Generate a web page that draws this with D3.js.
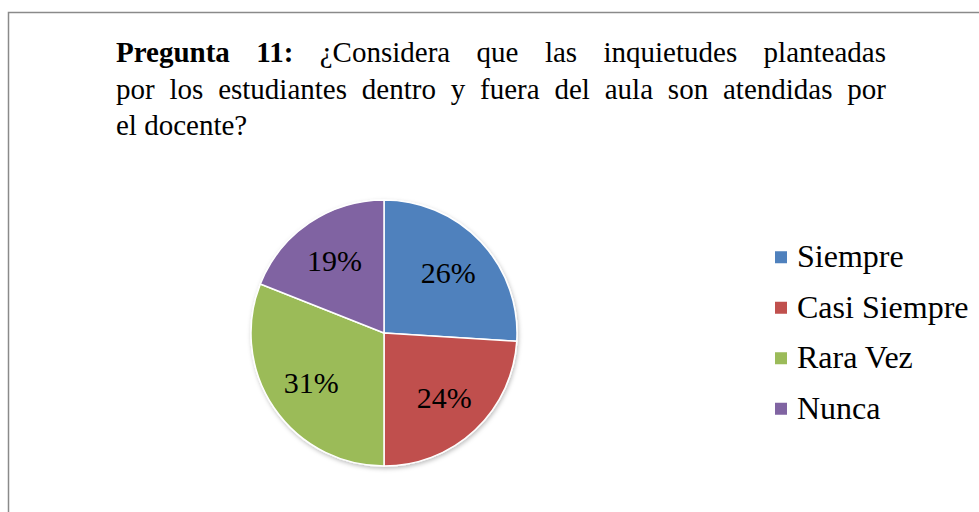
<!DOCTYPE html>
<html>
<head>
<meta charset="utf-8">
<script src="https://cdn.jsdelivr.net/npm/d3@7"></script>
<style>
  body { margin: 0; background: #fff; }
  svg { display: block; font-family: "Liberation Serif", "Times New Roman", serif; }
</style>
</head>
<body>
<svg id="chart" width="979" height="512"></svg>
<script>
// data
var categories = ["Siempre", "Casi Siempre", "Rara Vez", "Nunca"];
var values = [26, 24, 31, 19];
var colors = ["#4F81BD", "#C0504D", "#9BBB59", "#8064A2"];

var titleLines = [
  [["Pregunta", true], ["11:", true], ["¿Considera", false], ["que", false], ["las", false], ["inquietudes", false], ["planteadas", false]],
  [["por", false], ["los", false], ["estudiantes", false], ["dentro", false], ["y", false], ["fuera", false], ["del", false], ["aula", false], ["son", false], ["atendidas", false], ["por", false]],
  [["el docente?", false]]
];

var svg = d3.select("#chart"),
    width = +svg.attr("width"),
    height = +svg.attr("height");

// frame, runs off the right and bottom
svg.append("rect")
    .attr("x", 8.5).attr("y", 12.5)
    .attr("width", 1100).attr("height", 700)
    .attr("fill", "#fff")
    .attr("stroke", "#8a8a8a")
    .attr("stroke-width", 1.5);

// title, first two lines justified
var titleLeft = 116, titleRight = 886;
var baselines = [62, 98.5, 135];
titleLines.forEach(function(words, li) {
  var g = svg.append("g");
  var texts = words.map(function(w) {
    return g.append("text")
        .attr("y", baselines[li])
        .attr("font-size", "29px")
        .attr("font-weight", w[1] ? "bold" : "normal")
        .attr("fill", "#000")
        .text(w[0]);
  });
  var widths = texts.map(function(t) { return t.node().getComputedTextLength(); });
  var gap = 7;
  if (li < 2 && words.length > 1) {
    gap = (titleRight - titleLeft - d3.sum(widths)) / (words.length - 1);
  }
  var x = titleLeft;
  texts.forEach(function(t, i) {
    t.attr("x", x);
    x += widths[i] + gap;
  });
});

// pie
var cx = 384, cy = 333, radius = 133;

var defs = svg.append("defs");
var shadow = defs.append("filter").attr("id", "shadow")
    .attr("x", "-20%").attr("y", "-20%").attr("width", "140%").attr("height", "140%");
shadow.append("feDropShadow")
    .attr("dx", 1).attr("dy", 2).attr("stdDeviation", 2)
    .attr("flood-color", "#000").attr("flood-opacity", 0.25);

var pie = d3.pie().sort(null).value(function(d) { return d; });
var arc = d3.arc().innerRadius(0).outerRadius(radius);
var labelArc = d3.arc().innerRadius(88).outerRadius(88);

var arcs = pie(values);
var total = d3.sum(values);

var pieG = svg.append("g")
    .attr("transform", "translate(" + cx + "," + cy + ")");

pieG.append("g")
    .attr("filter", "url(#shadow)")
    .selectAll("path")
    .data(arcs)
    .enter().append("path")
    .attr("d", arc)
    .attr("fill", function(d, i) { return colors[i]; })
    .attr("stroke", "#fff")
    .attr("stroke-width", 1.5)
    .attr("stroke-linejoin", "round");

pieG.selectAll("text.label")
    .data(arcs)
    .enter().append("text")
    .attr("class", "label")
    .attr("transform", function(d) { return "translate(" + labelArc.centroid(d) + ")"; })
    .attr("text-anchor", "middle")
    .attr("dy", "0.35em")
    .attr("font-size", "30px")
    .attr("fill", "#000")
    .text(function(d) { return Math.round(d.value / total * 100) + "%"; });

// legend
var legendY = d3.scaleBand()
    .domain(categories)
    .range([232, 434]);

var legend = svg.append("g")
    .selectAll("g")
    .data(categories)
    .enter().append("g")
    .attr("transform", function(d) { return "translate(775," + (legendY(d) + legendY.bandwidth() / 2) + ")"; });

legend.append("rect")
    .attr("x", 0).attr("y", -6)
    .attr("width", 12).attr("height", 12)
    .attr("fill", function(d, i) { return colors[i]; });

legend.append("text")
    .attr("x", 22)
    .attr("y", 10)
    .attr("font-size", "32px")
    .attr("fill", "#000")
    .text(function(d) { return d; });
</script>
</body>
</html>
